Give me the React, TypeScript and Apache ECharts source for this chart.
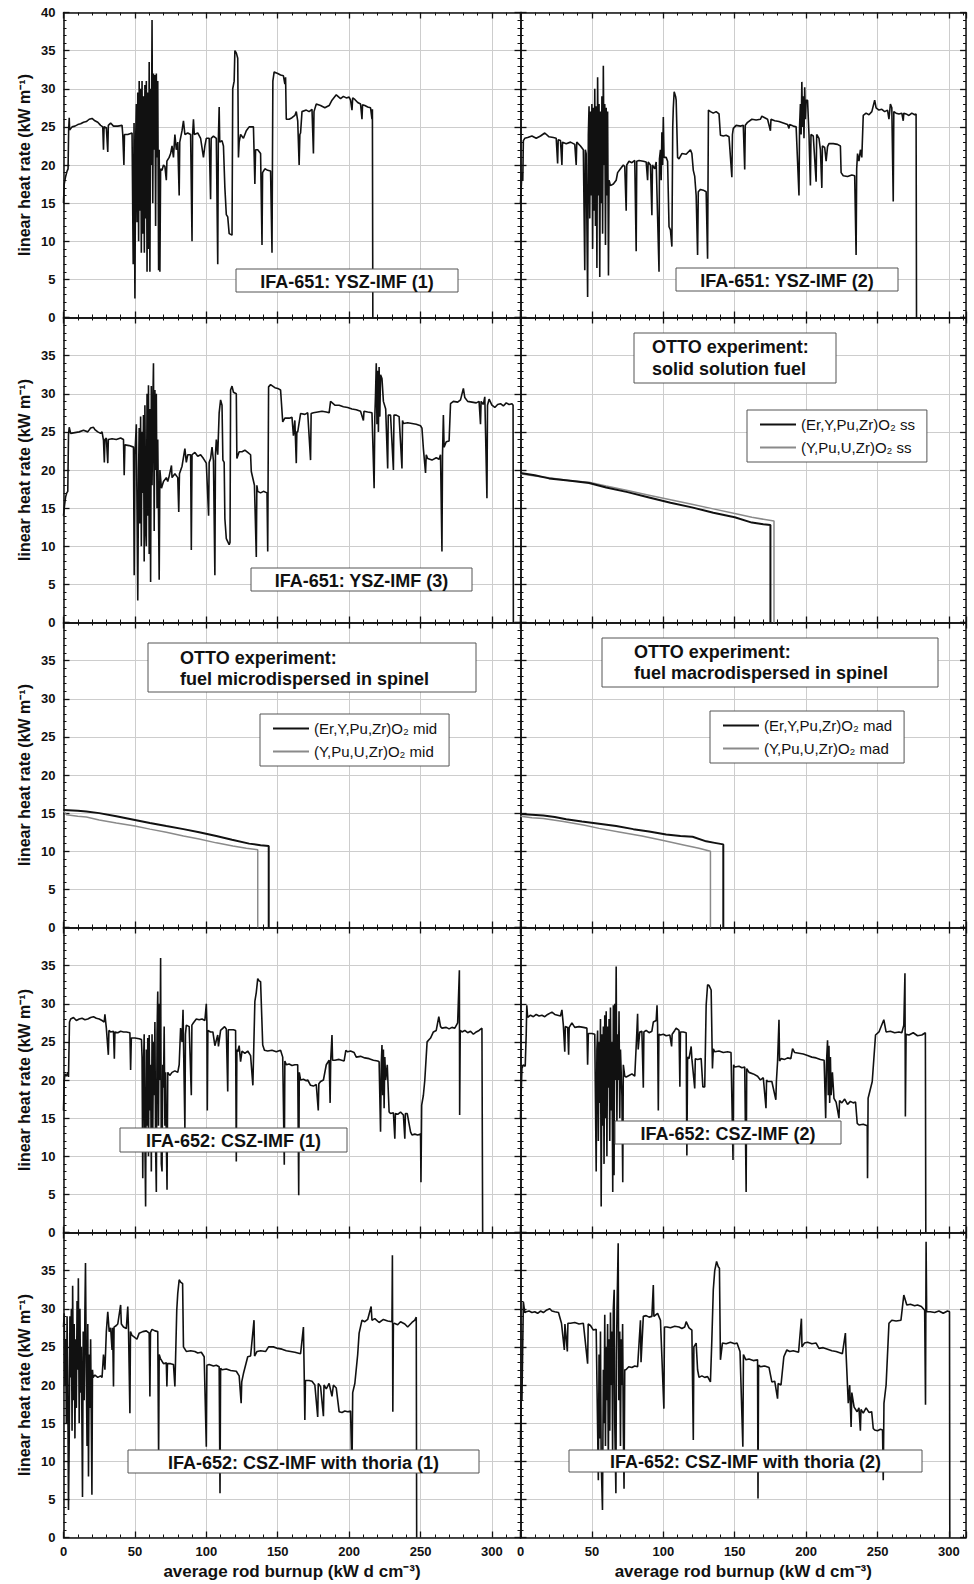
import React, { useEffect, useRef } from 'react';
import * as echarts from 'echarts';

const FONT = '"Liberation Sans", Arial, Helvetica, sans-serif';

// ---------------- data (burnup kW d cm^-3, linear heat rate kW m^-1) ----------------
const ifa651_1: number[][] = [
  [0,15],[0.5,17.5],[1.5,18.5],[2.5,19.2],[3.2,19.5],[3.6,24.5],[4,26.2],[4.3,24.6],[6,25],[8,25.1],[10,25.3],[12,25.4],[14,25.6],[16,25.7],[18,26],[20,26.1],[22,25.8],[24,25.6],[26,25.2],[27.5,25],[28,22],[28.4,25],[30,24.9],[31,21.7],[31.4,25.2],[33,25.5],[35,25.1],[38,25.1],[41,25.2],[41.5,24],[42.3,20],[42.7,24],[45,24],[48,24.2],[48.8,7],[49.4,25.5],[50,2.5],[50.6,24],[51,28],[51.5,12.5],[52,29.5],[52.6,10],[53,31],[53.5,14],[54,30],[54.5,8.5],[55,31],[55.5,11],[56,29],[56.6,8.5],[57,30.5],[57.5,13],[58,31],[58.5,6],[59,29.5],[59.5,9],[60,33.5],[60.5,6],[61,30],[61.5,20],[62,39],[62.5,15],[63,32],[63.5,22],[64,31.8],[64.5,12],[65,32],[65.5,21],[66,31],[66.6,6.2],[67,22],[67.5,6],[68,19.5],[69,19.3],[70,20],[71,19.8],[72,18],[72.4,20.5],[74,21],[75,21.5],[76,22.5],[77,21],[78,24],[79,22],[80,23],[81,16],[81.4,23],[83,24.5],[84,25.8],[85,24],[87,24.2],[89,24],[90,10],[90.4,24],[91,26],[91.6,24],[94,24.2],[96,23.5],[98,21],[99,22.5],[100,23.5],[102,23.5],[103,15.5],[103.4,23.5],[105,23.8],[107,23.5],[108,7],[108.4,23],[109,27.6],[109.4,23],[111,23.2],[112,22.5],[113,17],[114,13.5],[115,13.2],[116,11],[118,10.8],[118.5,30],[119.5,31],[120,35],[121,34.7],[122,34],[122.5,21],[123,23],[124,24],[126,23.5],[128,24.5],[130,25],[133,25],[134,17.5],[134.5,22],[136,22],[138,21.5],[139,9.5],[139.4,19],[141,19.5],[143,19.3],[145,19.2],[146,8.5],[146.6,31],[147.5,32.2],[150,32],[152,31.8],[154,31.7],[155,30.6],[155.5,31.5],[156,26],[158,26],[160,26.2],[162,26.5],[163,27],[164,25.8],[165,20],[165.5,24],[166,24.2],[167,27],[170,27.2],[172,27],[174,27.3],[175,21.5],[175.4,27],[177,28],[180,27.8],[183,27.5],[186,27.8],[188,28.5],[191,29.2],[194,28.7],[196,29],[198,28.8],[200,28.9],[201,28.5],[202,27.2],[202.5,28.8],[204,28.6],[206,28.2],[208,28],[209,26],[209.4,27.9],[211,27.8],[213,27.6],[215,27.5],[216,26],[216.3,27.3],[216.6,0]
];

const ifa651_2: number[][] = [
  [0,15],[0.5,17],[1,19],[1.6,18],[2,23.2],[3,23.5],[5,23.6],[8,23.8],[11,23.5],[14,23.8],[17,24.2],[20,23.7],[23,23.6],[25,23.5],[26,20.2],[26.4,23.3],[28,23.2],[29,20],[29.4,23],[32,22.8],[35,23],[38,22.7],[39,20],[39.4,23],[42,22.5],[44,22],[45,6.2],[45.4,22],[46,21.5],[47,2.7],[47.5,24],[48,27.7],[48.5,13],[49,27],[49.5,16],[50,28],[50.5,9],[51,27.5],[51.6,14],[52,30],[52.5,12],[53,27.7],[53.5,6.5],[54,31.5],[54.6,16],[55,28],[55.5,5.3],[56,27],[56.6,15],[57,29],[57.5,11],[58,33],[58.5,20],[59,28],[59.5,9.5],[60,27.5],[60.6,16],[61,27],[61.6,5.5],[62,18],[63,17.3],[65,17.5],[67,18],[68,19],[70,19.5],[72,20],[73,19.8],[74,14],[74.4,20],[76,20.5],[78,20.3],[80,20.6],[81,8.7],[81.4,20.5],[83,20.6],[86,20.5],[88,20.4],[89,18],[89.4,20.4],[91,20],[92,13.4],[92.4,20],[94,19.5],[95,20.4],[97,6],[97.3,20.8],[98,22],[98.5,18],[99,24.3],[99.5,20],[100,26.3],[100.5,21],[102,21],[103,20.5],[104,11.9],[105,11.5],[106,9.3],[106.6,25],[107,27.5],[107.6,29.6],[108.6,29],[109,28.5],[110,21],[111,20.8],[113,21.5],[116,21.4],[119,22],[120,21.5],[121,19.3],[122,18.5],[123,16],[124,8.2],[124.5,16.5],[126,16.8],[128,16.7],[130,16.5],[131,7.7],[131.6,27.2],[133,27],[135,26.8],[137,27],[139,26.7],[140,23.9],[142,23.8],[144,23.9],[146,23.7],[148,18.4],[148.4,24],[149,24.8],[151,25.2],[154,25.1],[156,25.2],[157,19.4],[157.4,25.2],[159,25.6],[162,26],[165,25.9],[168,26],[169,26.4],[171,26.2],[173,26],[175,24.5],[175.4,26],[178,25.8],[181,25.7],[184,25.5],[187,25.3],[188,24.8],[188.4,25.3],[191,25.1],[193,25],[195,16],[195.4,25],[196,28],[196.5,24],[197,30.9],[197.5,25],[198,29],[198.5,23.5],[199,30.2],[199.5,26],[200,28.5],[201,28.5],[202,24],[203,17.3],[203.4,24],[205,23.8],[207,17.8],[207.4,24],[209,23.5],[210,22],[211,17],[211.4,22.5],[213,22.3],[214,20.5],[215,22.4],[216,22.8],[219,22.8],[222,22.7],[224,22.5],[224.5,19],[226,18.6],[229,18.5],[232,18.7],[234,18.6],[235,8.2],[235.4,19.5],[236,21.5],[237,20.5],[238,22],[239,21],[240,26.5],[242,26.8],[244,26.6],[246,27],[248,28.5],[249,27.5],[251,27.2],[253,27.3],[255,27],[257,27.2],[258,26],[259,28],[260,27.5],[261,15.2],[261.4,27],[263,26.8],[265,26.7],[267,26.8],[268,25.8],[268.4,26.8],[270,26.7],[272,26.5],[274,26.8],[276,26.6],[277,26.7],[277.3,0]
];

const ifa651_3: number[][] = [
  [0,14],[0.8,15.5],[1.5,16.5],[2.3,17],[3,17.2],[3.5,24.6],[4,25.6],[5,24.8],[8,24.9],[11,25],[14,25.2],[17,25],[19,25.5],[21,25.6],[22,25.3],[24,25],[26,24.8],[27,25],[28,23.9],[28.6,21],[29,24],[30,24.2],[31,20.9],[31.4,24],[34,24.1],[37,24],[40,24.2],[42,24],[42.5,19.3],[43,23.3],[46,23.2],[49,23],[49.5,6.2],[50,22],[51,26],[52,2.9],[52.6,20],[53,25.5],[53.5,13],[54,27],[54.5,10],[55,25],[55.5,17],[56,27.2],[56.5,8],[57,28.5],[57.6,12],[58,10],[58.5,30],[59,14],[59.5,31.1],[60,9],[60.5,28],[61,5.3],[61.5,31],[62,18],[62.6,29],[63,34],[63.5,12],[64,30.5],[64.6,20],[65,30],[65.5,15],[66,24],[67,5.6],[67.5,20],[68.6,17.6],[70,18.5],[72,19],[73,18.5],[74,19.2],[75.6,20.6],[76,19],[78,19.5],[80,19],[80.7,14.5],[81.2,19.5],[83,20.5],[85,22.8],[86,21],[87,22],[89,22],[89.5,9.5],[90,22],[92,22.3],[94,21.8],[96,22],[98,21.5],[100,20.9],[101.6,14],[102,21],[103,21.5],[104,23],[105,21.2],[106,6.2],[106.4,22],[107,24],[108,22],[109,27.5],[110,29.2],[111,28.5],[111.6,21.3],[112.5,21],[113,13.6],[114,11],[115,10.6],[116,10.2],[116.6,10.5],[117,30.5],[118,31],[119,30.2],[121,30],[121.4,21.5],[123,22.4],[125,22.4],[127,22.6],[129,22.3],[131,22],[131.5,19.8],[133.7,18],[135,8.6],[135.4,18],[136,17.2],[138,17],[140,17.2],[142.5,17],[143,9.3],[143.6,30.9],[145,31.2],[148,30.8],[150,30.7],[152,30.5],[153.5,26.3],[155,26.8],[158,26.8],[160,26.9],[161,24.5],[162,26.5],[163,20.9],[163.4,25],[164,25],[166,27.4],[169,27.3],[171,27.5],[173,21.3],[173.4,27.4],[175,27.5],[178,27.6],[181,27.7],[184,27.6],[186,27.5],[187,29],[190,28.5],[193,28.5],[196,28.3],[199,28.2],[202,28],[205,27.9],[208,27.7],[210,26.5],[210.4,27.7],[213,27.6],[216,27.5],[217.5,17.6],[218,27],[218.5,30],[219,34],[219.5,26],[220,33],[220.5,25],[221,33.5],[221.5,27],[222,32.5],[223,32],[224,29],[225.6,28],[227,20.2],[227.4,27.2],[229,27.2],[231,20],[231.4,27.2],[233,27.2],[235,27],[237,20.2],[237.4,26.5],[238,26.1],[241,26.2],[244,26.1],[247,26],[250,25.8],[251,25.5],[252,22.8],[253.5,19.6],[254,22],[255,21.5],[258,21.3],[261,21.6],[263,21.4],[264,22],[265,9.3],[265.4,22],[266,27.2],[266.5,23],[268,23.7],[270,23.8],[271,28.7],[273,29],[276,28.9],[278,29.2],[280,30.7],[281,29.5],[283,29],[286,28.9],[289,28.8],[291,29],[292,26],[292.4,29],[294,28.6],[295,29.6],[296.5,16.3],[296.9,28.5],[298,29.3],[300,28.5],[302,28.2],[304,28.6],[306,28.7],[308,28.4],[310,28.8],[312,28.6],[314,28.7],[314.8,28.5],[315,0]
];

const ottoSsEr: number[][] = [[0,19.6],[10,19.3],[20,18.9],[35,18.6],[48,18.3],[60,17.7],[75,17.1],[90,16.4],[105,15.7],[120,15.1],[135,14.4],[150,13.8],[162,13.1],[170,12.9],[175,12.8],[175,0]];
const ottoSsU: number[][] = [[0,19.5],[10,19.2],[20,19],[35,18.6],[48,18.4],[60,17.9],[75,17.3],[90,16.7],[105,16.1],[120,15.5],[135,14.9],[150,14.3],[162,13.8],[177.5,13.3],[177.5,0]];
const ottoMidEr: number[][] = [[0,15.4],[10,15.3],[16,15.2],[25,15],[37,14.6],[50,14.1],[60.5,13.7],[72,13.3],[84,12.9],[95,12.5],[107,12],[118,11.5],[130,11],[138,10.8],[143.7,10.7],[143.7,0]];
const ottoMidU: number[][] = [[0,15.3],[2,14.8],[10,14.6],[16,14.5],[25,14.1],[37,13.7],[50,13.3],[60.5,12.9],[72,12.5],[84,12],[95,11.6],[107,11.1],[118.6,10.7],[128,10.4],[136,10.2],[136,0]];
const ottoMadEr: number[][] = [[0,14.9],[8,14.8],[16,14.7],[24,14.5],[32,14.2],[43,13.9],[55,13.6],[67,13.3],[79,12.9],[90,12.6],[102,12.2],[112,12],[120.5,11.9],[130,11.3],[136,11.1],[142,10.9],[142,0]];
const ottoMadU: number[][] = [[0,14.6],[8,14.4],[16,14.3],[30,13.9],[45,13.4],[55,13],[70,12.5],[85,12],[100,11.4],[115,10.8],[125,10.4],[133,10],[133,0]];

const ifa652_1: number[][] = [
  [0,16],[0.5,19.8],[1,20.8],[2,20.5],[3,21],[3.5,20.4],[4.2,27.6],[5,28],[7,28.2],[9,27.8],[11,28],[13,28.1],[15,27.9],[17,28],[19,28.2],[21,28.3],[23,28.1],[25,28],[27,27.8],[28.5,27.6],[29,28.6],[30,26.8],[31.4,23.3],[31.8,26.5],[33,26.3],[35,26.4],[35.6,22.8],[36,26.3],[38,26.2],[40,26.4],[42,26.3],[44,26.3],[46.5,26.2],[47,21.3],[47.5,25.5],[50,25.5],[53,25.4],[54.6,25.3],[55,23],[55.5,7.1],[56,22],[56.5,26],[57,12],[57.5,3.4],[58,24],[58.5,14],[59,25.5],[59.5,10],[60,25.9],[60.5,16],[61,22],[61.5,8],[62,26],[62.5,13],[63,25],[63.5,18],[64,27.6],[64.5,11],[65,5.3],[65.5,26],[66,31.6],[66.5,14],[67,30],[67.5,20],[68,36],[68.5,9],[69,8],[69.5,22],[70,19],[70.5,27],[71,14],[71.5,21],[72,12],[72.5,5.6],[73,21],[74.4,20.6],[76,21],[78,21.2],[80,21],[81,22],[82,26.8],[83,25],[83.7,29.2],[84.2,23],[85,13.6],[85.4,26],[86,27.2],[88,27],[89.5,18],[89.9,27.2],[91,27.5],[93,28],[95,27.9],[97,28],[99,27.8],[100,30],[100.4,27.5],[100.7,16],[101.1,26.5],[103,26.3],[104.6,26.3],[106,24.5],[108,25.9],[108.5,24.4],[110,26.5],[112.8,27],[114,26.7],[115,18.5],[115.4,26.6],[117,26.6],[119,26.6],[120.5,26.5],[121,9.3],[121.4,24],[122,23.7],[123,24.5],[124,22.4],[125,23.8],[127,23.5],[129,23.8],[131,23.2],[132.6,19.3],[134,30.3],[135,31.5],[136,33.3],[137,33],[138,32.9],[139.5,24.6],[140.7,23.9],[143,23.8],[146,23.9],[149,23.7],[152,23.9],[153.5,23],[154.6,8.9],[155,22.5],[156,22],[158,22.1],[160,21.9],[162,22],[164,22],[164.7,4.9],[165.1,21],[166,20],[168,20.1],[170,19.9],[171,20],[173,19.3],[175,19.2],[177,19.4],[178.4,16],[178.8,19.5],[180,19.8],[182,20],[184,22],[186,22.6],[186.7,17],[187.1,22.6],[188,25.9],[188.4,22.6],[190,22.6],[193,22.7],[196.5,22.5],[197.7,23.9],[199,23.7],[201,23.8],[203.5,23.6],[205,23],[208,23.1],[211,22.9],[214,22.8],[217,22.6],[220,22.5],[221,22.4],[222,13.2],[222.5,22],[223,24.6],[223.5,18],[224,24],[224.5,16.3],[225,23],[225.6,20],[226.7,22],[228,15.8],[229,15.6],[231,15.7],[232,12.3],[232.4,15.6],[234,15.5],[236,15.8],[238,15.4],[239,12.3],[239.4,15.6],[240.7,15.6],[243,13.2],[244,12.8],[246,12.9],[248,12.8],[250,12.9],[250.3,6.6],[250.8,16.7],[252,18],[253,20],[254.6,25],[257,25.5],[259,26.3],[261,26.5],[262.8,28.3],[264,27],[265,26.8],[268,26.9],[270,26.7],[272,26.9],[274,26.8],[276,27.5],[277.2,34.4],[277.4,15.4],[277.8,26.5],[279,26.3],[281,26.5],[283,26.2],[285,26.4],[287,26],[289,26.3],[291,26.5],[293,26.8],[293.5,0]
];

const ifa652_2: number[][] = [
  [0,15],[0.5,18.5],[1,21.5],[2,22],[3.3,21.8],[4,26],[4.4,29.8],[5,28.2],[7,28.5],[9,28.3],[11,28.6],[13,28.4],[15,28.5],[17,28.3],[19,28.6],[21,28.8],[22,28.9],[24,28.6],[26,28.5],[28,28.4],[29,29.2],[30,27.2],[31,23.7],[31.4,27],[33,26.9],[33.7,23.3],[34.1,26.9],[36,27.5],[38,26.9],[41,27],[44,26.9],[46.5,26.8],[47,22],[47.5,26.1],[50,26.1],[52,26],[53,8],[53.5,24],[54,26.5],[54.5,12],[55,25],[55.5,17],[56,28],[56.5,3.4],[57,26],[57.5,14],[58,27],[58.5,9],[59,28.5],[59.5,15],[60,29],[60.5,10],[61,27],[61.5,19],[62,28],[62.5,12],[63,29.5],[63.5,16],[64,25],[64.6,5.3],[65,29.8],[65.5,7.5],[66,30],[66.5,20],[67,34.9],[67.5,14],[68,26],[68.5,20],[69,29],[69.5,15],[70,24],[71,18],[71.6,6.6],[72,22],[73,20.5],[74,20.4],[76,20.6],[78,20.8],[80,20.5],[81.4,26],[82,28.7],[82.4,24],[83.5,26.3],[85,26.4],[86,19],[86.4,26.3],[88,26.5],[90,26.2],[92,26.4],[93,27.6],[95,27.8],[95.6,29.8],[96,27],[96.5,16],[96.9,26],[98,25.9],[100,26],[102,25.8],[104.6,25.9],[105.8,24.4],[106.2,26],[108,26.5],[109,26.8],[111,26.5],[111.6,19.1],[112,26.3],[114,26.3],[116,26.2],[116.5,10.1],[117,23],[118,22.8],[119.5,24.4],[120,22.8],[122,18.9],[122.4,22.8],[124,22.7],[126.5,22.8],[127.7,19.1],[129,19.1],[130,29.8],[131,32.5],[132,32.4],[133.5,31.8],[134.4,21.5],[135,24.1],[136,23.7],[139,23.8],[142,23.6],[145,23.7],[147.4,23.6],[148.8,9.5],[149.2,22],[150,21.7],[153,21.8],[155,21.6],[157,21.7],[158,5.3],[158.4,21.5],[160,21],[163,20.8],[166,20.5],[168,20],[170,20.3],[171.9,16.3],[172.3,20],[173,19.8],[176,19.8],[178.8,17.4],[179.2,19.9],[180,22.4],[181,27.9],[181.4,22.5],[182.5,22.8],[185,22.7],[187,22.9],[189.3,22.8],[190.5,24.1],[192,23.6],[195,23.5],[198,23.4],[201,23.2],[204,23],[207,22.9],[210,22.7],[212.6,22.6],[213.7,15],[214.2,22],[215,25.2],[215.5,18],[216,24.5],[216.5,17],[217,23],[217.5,18],[218.4,21],[219.5,17.6],[221,17.1],[223,15],[223.4,17.3],[225,17],[227,17.5],[229,16.8],[231,17.2],[233,17],[234.6,17.1],[235.8,14.3],[237,14.1],[240,14.2],[242.8,14],[243,7.1],[243.4,17.6],[246.3,19.8],[248.6,25.9],[251,26.3],[254.4,27.9],[256,26.3],[259,26.4],[262,26.2],[265,26.3],[267,26.2],[268.4,27.2],[269.2,34],[269.5,15.2],[270,26],[272,25.9],[275,26.2],[278,25.8],[281,25.9],[283.5,26.2],[283.8,0]
];

const thoria_1: number[][] = [
  [0,27.6],[0.5,29.4],[1,20],[1.5,26],[2,15],[2.5,29],[3,20],[3.5,3.6],[4,12.8],[4.5,29],[5,21],[5.5,30],[6,14],[6.4,33],[7,18],[7.5,28],[8,13],[8.5,26],[9,17],[9.5,31],[10,22],[10.4,34],[11,15],[11.5,30],[12,19],[12.5,25],[13.3,5.3],[13.8,27],[14.5,18],[15,30],[15.4,36],[16,21],[16.5,12],[17,28],[17.5,8],[18,24],[18.5,17],[19,26],[19.9,5.6],[20.3,22],[20.7,21],[22,21.3],[24,21],[26,21.2],[27,21],[28,24],[29,22],[30,27],[31,29.6],[32,27],[33,27.5],[34,24.6],[34.4,27.5],[35,19.8],[35.4,27.6],[37,27.8],[38,28],[40,30.5],[40.5,28],[42,27.6],[44,27.4],[45,30.3],[45.5,27.5],[46.5,16.3],[46.9,27],[48,26.5],[49.4,26.3],[51.4,26],[53,26.8],[55.5,27],[58,27.1],[60,26.8],[60.5,18.5],[60.9,26.9],[62,27.3],[64,27.1],[66,27],[66.6,10.6],[67,24],[67.8,23.5],[70,22.8],[72,22.9],[72.4,19.8],[72.8,22.8],[75,22.8],[77,22.7],[78,19.8],[79.3,29.8],[80,32],[81,33.8],[82,33.5],[83.4,33.3],[84,25],[86,24.4],[89,24.5],[92,24.4],[94,24.2],[96.5,24.3],[98.5,23.7],[100,11.9],[100.4,22.6],[102,22.7],[105,22.5],[107,22.6],[109,22.4],[109.6,5.8],[110,22.2],[111,22],[114,22.1],[117,21.9],[121,21.8],[123,21.2],[124.4,17.6],[124.8,20.4],[126,21.5],[129,23.7],[131,23.8],[133.4,28.5],[133.8,23.8],[135.5,24.4],[138,24.5],[141.6,24.4],[143.6,25],[147,25],[150,24.8],[153,24.7],[156,24.5],[159,24.4],[162,24.3],[166,24.1],[168,27.6],[168.5,22],[169,15.4],[169.4,20.6],[172,20.6],[174,20.5],[176,20],[178,15.8],[178.4,20.2],[180,19.8],[182,15.9],[182.4,20],[184,19.5],[186,20.2],[188,18.5],[189,20],[191,19.6],[193,16.5],[195,16.4],[197,16.6],[199,16.5],[201,16.6],[202,8.5],[202.5,19],[204,20.2],[206,24],[207,26.8],[209,28.5],[211,28.3],[213,28.6],[215.4,30.3],[216,28.5],[218,28.7],[221,28.2],[224,28.6],[227,28.4],[230,28.3],[230.3,37],[230.6,16.5],[231,28],[231.6,28.1],[234,27.9],[236,28.3],[239,28],[241,27.6],[244,28.2],[246,28.5],[247,28.9],[247.3,0]
];

const thoria_2: number[][] = [
  [0,12],[0.5,20],[1,18],[2,30.9],[3,29.5],[4,29.6],[6,29.7],[8,29.5],[10,29.6],[12,29.4],[14,29.7],[16,29.5],[18,29.8],[20.5,30],[22,29.7],[24,29.6],[26.6,29.5],[28.7,28.1],[30.7,24.6],[31.1,28],[32.8,24.4],[33.2,28.1],[35,28.1],[38,28.2],[41,28],[44,28.1],[47,22.8],[47.4,28],[49,27.8],[51,27.2],[53,27.3],[54.5,7.5],[55,24],[55.5,13],[56,27],[56.5,10],[57.4,3.6],[58,22],[58.5,15],[59,29.2],[59.5,12],[60,25],[60.5,18],[61,28],[61.5,9],[62,26],[62.5,14],[63,29.5],[63.5,20],[64,27],[64.5,11],[65,30],[65.6,32.5],[66,15],[66.8,5.8],[67.2,24],[67.6,30],[68.4,38.6],[68.8,18],[69.5,27],[70,12],[70.5,26],[71,20],[71.5,28],[72,14],[72.5,6.4],[73,22],[73.8,22],[75.8,22.4],[78,22.3],[80,22.5],[82,22.4],[84,28.5],[84.4,23],[86,29],[88,29.1],[90,28.9],[92,29],[93,33.1],[93.4,29],[96,29.4],[98,28.5],[100.4,16.9],[100.8,27.6],[102.5,27.6],[105,27.5],[108,27.7],[111,27.6],[113,27.4],[115,27.6],[116,28.3],[118,27.5],[120,27.2],[121,12.8],[121.4,25],[123,25.5],[124,22],[125,21],[127,21.2],[129,21],[131,21.1],[133,20.4],[134,26],[135,32.5],[136,35],[137.3,36.2],[138.5,35.5],[139.3,35.3],[140,23.3],[141.4,25.5],[144,25.4],[147,25.6],[150,25.4],[151.6,25.5],[153.7,24.4],[155.7,11.9],[156.1,24],[157.8,23.3],[160,23.4],[163,23.2],[166,23.3],[166.3,5.1],[166.7,22.6],[168,22.4],[171,22.5],[174,22.3],[176,20.4],[178,20.5],[180,18.2],[180.4,20.2],[182.4,20],[184.4,23.7],[186.5,24.6],[188.5,24.4],[191,24.5],[194.7,24.3],[196.7,28.7],[197.1,25],[198.8,25.5],[201,25.6],[204,25.4],[207,25.5],[209,24.8],[212,24.9],[215,24.7],[218,24.5],[221,24.4],[224,24.2],[225.4,24.1],[227.5,26.8],[228,24],[229.5,17.6],[230.5,20],[231.5,14.5],[232,19],[233.6,17.1],[235.7,16.5],[237,17],[238,14],[238.4,16.8],[240,16.3],[242,17],[244,16.4],[245.9,16.5],[247,14.3],[248,14.1],[250,14],[252,14.2],[253.5,14.1],[254,7.5],[254.5,17.6],[256,20],[258,28.1],[260,28.5],[263,28.4],[266.4,28.5],[268.4,31.8],[270.5,30.5],[273,30.6],[276,30.4],[278,30.5],[280.7,30.3],[283,29.8],[283.6,17.4],[284,38.8],[284.4,29.6],[287,29.6],[290,29.5],[293,29.7],[296,29.4],[299,29.7],[300.4,29.6],[300.6,0]
];

const xTickLabels = [0, 50, 100, 150, 200, 250, 300];
const yTickLabels = [0, 5, 10, 15, 20, 25, 30, 35, 40];

const panelLabels = [
  'IFA-651: YSZ-IMF (1)', 'IFA-651: YSZ-IMF (2)', 'IFA-651: YSZ-IMF (3)', '',
  '', '', 'IFA-652: CSZ-IMF (1)', 'IFA-652: CSZ-IMF (2)',
  'IFA-652: CSZ-IMF with thoria (1)', 'IFA-652: CSZ-IMF with thoria (2)',
];
const ottoTitles = ['solid solution fuel', 'fuel microdispersed in spinel', 'fuel macrodispersed in spinel'];
const ottoNames = [
  ['(Er,Y,Pu,Zr)O\u2082 ss', '(Y,Pu,U,Zr)O\u2082 ss'],
  ['(Er,Y,Pu,Zr)O\u2082 mid', '(Y,Pu,U,Zr)O\u2082 mid'],
  ['(Er,Y,Pu,Zr)O\u2082 mad', '(Y,Pu,U,Zr)O\u2082 mad'],
];

// ---------------- layout ----------------
const ROW_TOP = 12.5;
const ROW_H = 305;
const COL_X = [63.5, 520.5];
const X_MAX = [320, 312];
const PX_PER_UNIT = 457 / 320;

// label boxes [left, top, width, height] for single-line labels
const labelBoxes: Record<number, number[]> = {
  0: [236, 269, 222, 23],
  1: [676, 268, 222, 23],
  2: [251, 568, 221, 23],
  6: [120, 1128, 227, 24],
  7: [615, 1121, 226, 23],
  8: [128, 1450, 351, 23],
  9: [569, 1450, 353, 22],
};
// OTTO title boxes [left, top, width, height, textLeft, line1Y, line2Y]
const ottoBoxes = [
  [634, 333, 202, 50, 652, 347, 369],
  [148, 643, 328, 49, 180, 658, 679],
  [602, 638, 336, 49, 634, 652, 673],
];
const ottoLegendPos = [[747, 410], [260, 714], [710, 711]];
const ottoPanels = [3, 4, 5];

function buildOption() {
  const grids: any[] = [];
  const xAxes: any[] = [];
  const yAxes: any[] = [];
  const series: any[] = [];
  const axisLineStyle = { color: '#111', width: 1.5 };
  const tickStyle = { color: '#111', width: 1.3 };
  const gridLineStyle = { color: '#cdcdcd', width: 1 };

  const noisy: Record<number, number[][]> = {
    0: ifa651_1, 1: ifa651_2, 2: ifa651_3, 6: ifa652_1, 7: ifa652_2, 8: thoria_1, 9: thoria_2,
  };
  const otto: Record<number, number[][][]> = {
    3: [ottoSsEr, ottoSsU], 4: [ottoMidEr, ottoMidU], 5: [ottoMadEr, ottoMadU],
  };

  for (let r = 0; r < 5; r++) {
    for (let c = 0; c < 2; c++) {
      const p = r * 2 + c;
      grids.push({
        left: COL_X[c], top: ROW_TOP + r * ROW_H,
        width: X_MAX[c] * PX_PER_UNIT, height: ROW_H,
      });
      const bottomRow = r === 4;
      xAxes.push({
        type: 'value', gridIndex: p, position: 'bottom', min: 0, max: X_MAX[c], interval: 50,
        axisLine: { show: true, onZero: false, lineStyle: axisLineStyle },
        axisTick: { show: true, inside: true, length: 6, lineStyle: tickStyle },
        minorTick: { show: true, splitNumber: 5, length: 3, lineStyle: { color: '#111', width: 1 } },
        axisLabel: {
          show: bottomRow, margin: 7, color: '#111', fontWeight: 'bold', fontSize: 13, fontFamily: FONT,
          formatter: (v: number) => (xTickLabels.includes(v) ? String(v) : ''),
        },
        splitLine: { show: true, lineStyle: gridLineStyle },
        name: bottomRow ? 'average rod burnup (kW d cm\u207B\u00B3)' : '',
        nameLocation: 'middle', nameGap: 25,
        nameTextStyle: { fontSize: 17, fontWeight: 'bold', color: '#111', fontFamily: FONT },
      });
      xAxes.push({
        type: 'value', gridIndex: p, position: 'top', min: 0, max: X_MAX[c], interval: 50,
        axisLine: { show: true, onZero: false, lineStyle: axisLineStyle },
        axisTick: { show: true, inside: true, length: 6, lineStyle: tickStyle },
        minorTick: { show: true, splitNumber: 5, length: 3, lineStyle: { color: '#111', width: 1 } },
        axisLabel: { show: false },
        splitLine: { show: false },
      });
      yAxes.push({
        type: 'value', gridIndex: p, position: 'left', min: 0, max: 40, interval: 5,
        axisLine: { show: true, onZero: false, lineStyle: axisLineStyle },
        axisTick: { show: true, inside: true, length: 6, lineStyle: tickStyle },
        minorTick: { show: true, splitNumber: 5, length: 3, lineStyle: { color: '#111', width: 1 } },
        axisLabel: {
          show: c === 0, margin: 8, color: '#111', fontWeight: 'bold', fontSize: 13, fontFamily: FONT,
          formatter: (v: number) => (yTickLabels.includes(v) && !(r > 0 && v === 40) ? String(v) : ''),
        },
        splitLine: { show: true, lineStyle: gridLineStyle },
        name: c === 0 ? 'linear heat rate (kW m\u207B\u00B9)' : '',
        nameLocation: 'middle', nameGap: 31,
        nameTextStyle: { fontSize: 16, fontWeight: 'bold', color: '#111', fontFamily: FONT },
      });
      yAxes.push({
        type: 'value', gridIndex: p, position: 'right', min: 0, max: 40, interval: 5,
        axisLine: { show: true, onZero: false, lineStyle: axisLineStyle },
        axisTick: { show: true, inside: true, length: 6, lineStyle: tickStyle },
        minorTick: { show: true, splitNumber: 5, length: 3, lineStyle: { color: '#111', width: 1 } },
        axisLabel: { show: false },
        splitLine: { show: false },
      });

      if (noisy[p]) {
        series.push({
          type: 'line', name: panelLabels[p], xAxisIndex: 2 * p, yAxisIndex: 2 * p,
          data: noisy[p], symbol: 'none', showSymbol: false, silent: true,
          lineStyle: { color: '#111', width: 1.6 }, itemStyle: { color: '#111' }, z: 3,
        });
      }
      if (otto[p]) {
        const k = ottoPanels.indexOf(p);
        series.push({
          type: 'line', name: ottoNames[k][1], xAxisIndex: 2 * p, yAxisIndex: 2 * p,
          data: otto[p][1], symbol: 'none', showSymbol: false, silent: true,
          lineStyle: { color: '#8a8a8a', width: 1.5 }, itemStyle: { color: '#8a8a8a' }, z: 3,
        });
        series.push({
          type: 'line', name: ottoNames[k][0], xAxisIndex: 2 * p, yAxisIndex: 2 * p,
          data: otto[p][0], symbol: 'none', showSymbol: false, silent: true,
          lineStyle: { color: '#111', width: 2 }, itemStyle: { color: '#111' }, z: 4,
        });
      }
    }
  }

  const legends = ottoNames.map((names, k) => ({
    data: [names[0], names[1]],
    orient: 'vertical', left: ottoLegendPos[k][0], top: ottoLegendPos[k][1],
    itemWidth: 36, itemHeight: 14, itemGap: 8, padding: [7, 12, 7, 12],
    borderColor: '#555', borderWidth: 1, backgroundColor: '#fff',
    selectedMode: false,
    itemStyle: { opacity: 0, color: 'rgba(0,0,0,0)', borderWidth: 0 },
    textStyle: { fontSize: 15, color: '#111', fontFamily: FONT },
  }));

  const graphics: any[] = [];
  Object.keys(labelBoxes).forEach((key) => {
    const p = Number(key);
    const [l, t, w, h] = labelBoxes[p];
    graphics.push({
      type: 'rect', z: 100, shape: { x: l, y: t, width: w, height: h },
      style: { fill: '#fff', stroke: '#555', lineWidth: 1 },
    });
    graphics.push({
      type: 'text', z: 101, x: l + w / 2, y: t + h / 2 + 1,
      style: {
        text: panelLabels[p], fill: '#111', font: `bold 18px ${FONT}`,
        align: 'center', verticalAlign: 'middle', textAlign: 'center', textVerticalAlign: 'middle',
      },
    });
  });
  ottoBoxes.forEach((b, k) => {
    const [l, t, w, h, tl, y1, y2] = b;
    graphics.push({
      type: 'rect', z: 100, shape: { x: l, y: t, width: w, height: h },
      style: { fill: '#fff', stroke: '#555', lineWidth: 1 },
    });
    graphics.push({
      type: 'text', z: 101, x: tl, y: y1,
      style: { text: 'OTTO experiment:', fill: '#111', font: `bold 18px ${FONT}`, align: 'left', verticalAlign: 'middle', textAlign: 'left', textVerticalAlign: 'middle' },
    });
    graphics.push({
      type: 'text', z: 101, x: tl, y: y2,
      style: { text: ottoTitles[k], fill: '#111', font: `bold 18px ${FONT}`, align: 'left', verticalAlign: 'middle', textAlign: 'left', textVerticalAlign: 'middle' },
    });
  });

  return {
    animation: false,
    backgroundColor: '#fff',
    textStyle: { fontFamily: FONT },
    grid: grids,
    xAxis: xAxes,
    yAxis: yAxes,
    series,
    legend: legends,
    graphic: { elements: graphics },
  };
}

export default function App() {
  const ref = useRef<HTMLDivElement>(null);
  useEffect(() => {
    if (!ref.current) return;
    const chart = echarts.init(ref.current, null, { renderer: 'svg' });
    chart.setOption(buildOption() as any);
    return () => chart.dispose();
  }, []);
  return (
    <div
      ref={ref}
      style={{ position: 'absolute', left: 0, top: 0, width: 974, height: 1584, background: '#fff' }}
    />
  );
}
